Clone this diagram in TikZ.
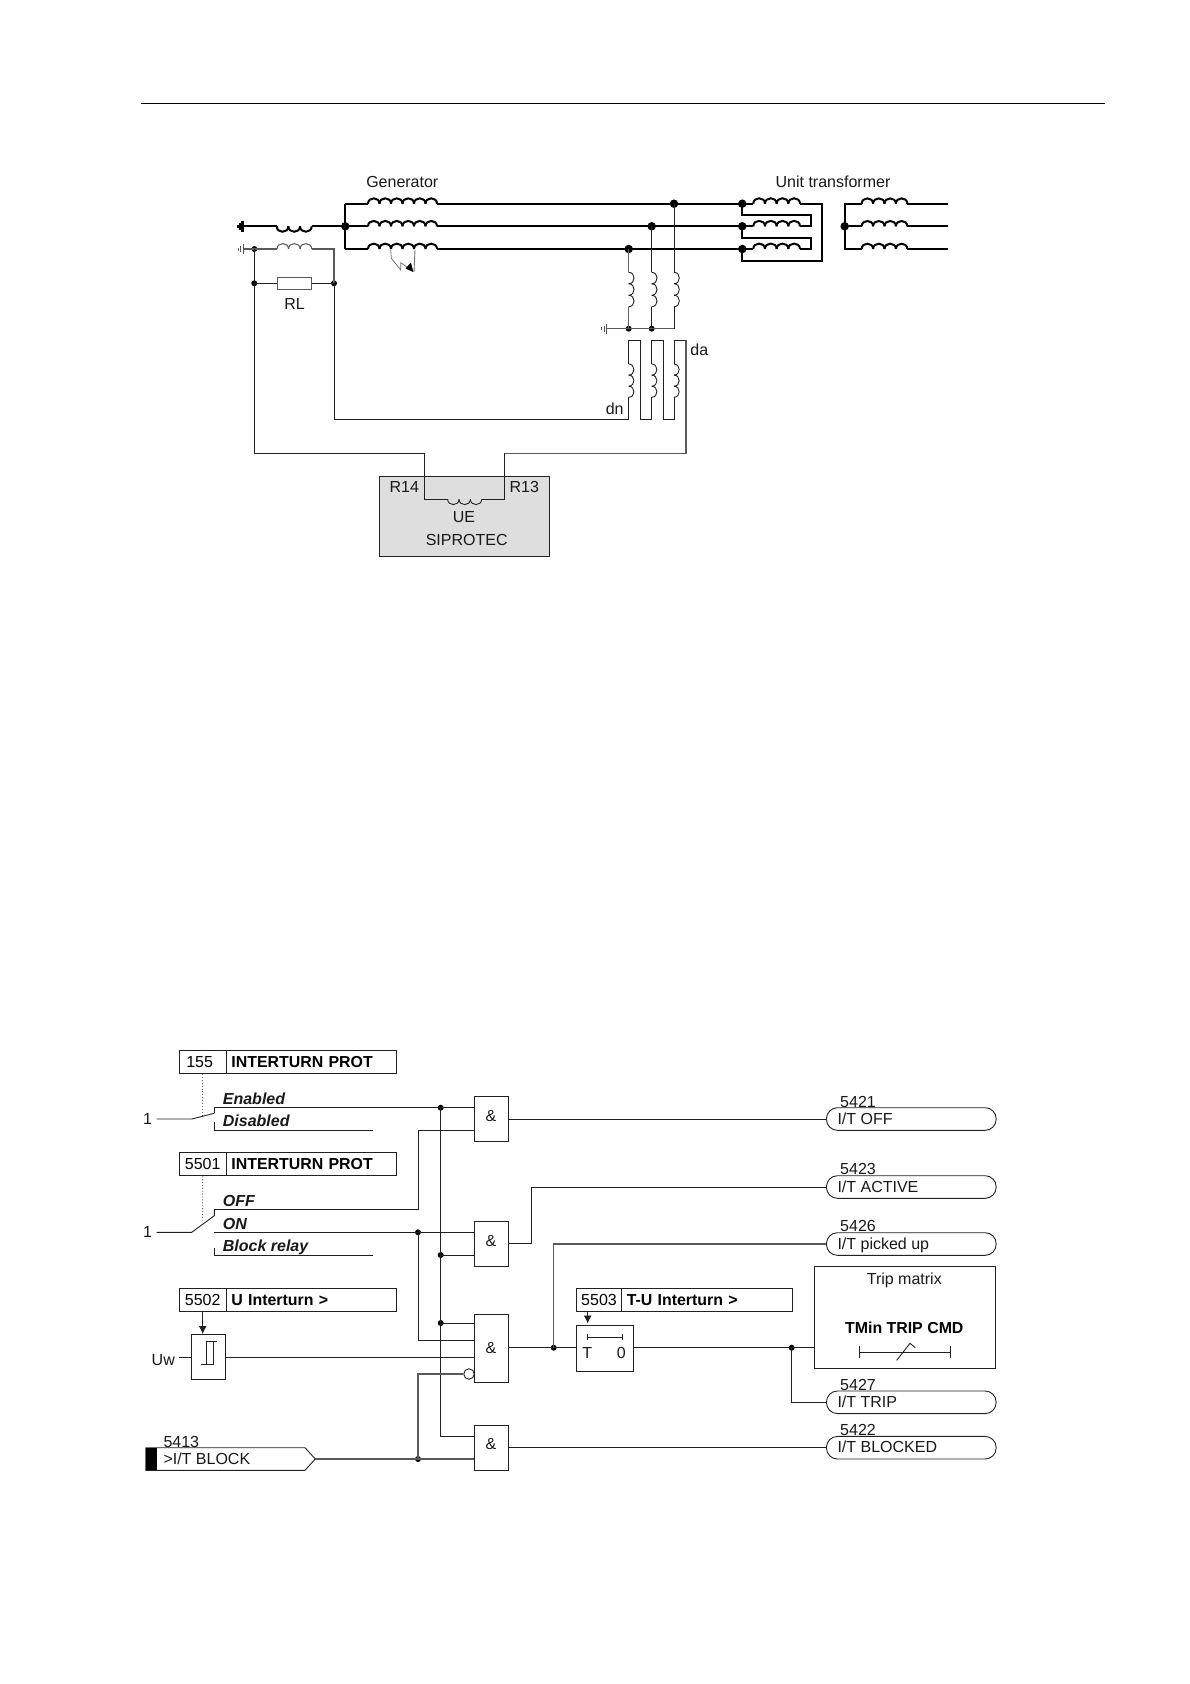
\documentclass[tikz,border=0pt]{standalone}
\usepackage{fontspec}
\setmainfont{Liberation Sans}
\usetikzlibrary{arrows.meta,calc}
\definecolor{ln}{gray}{0.13}
\definecolor{relaygray}{gray}{0.87}
\newcommand{\reg}{\fontsize{16}{18}\selectfont}
\newcommand{\bld}{\fontsize{15.9}{18}\selectfont\bfseries}
\newcommand{\bit}{\fontsize{16}{18}\selectfont\bfseries\itshape}
% horizontal coil: x0, step, n, y, sign (-1 up, 1 down), style
\newcommand{\coilH}[6]{\foreach \i in {1,...,#3}{%
  \pgfmathsetmacro\ca{#1+(\i-1)*#2}\pgfmathsetmacro\cb{\ca+#2}\pgfmathsetmacro\cy{#4+#5*0.62*#2}%
  \draw[#6] (\ca,#4) .. controls (\ca,\cy) and (\cb,\cy) .. (\cb,#4);}}
% vertical coil: y0, step, n, x
\newcommand{\coilV}[4]{\foreach \i in {1,...,#3}{%
  \pgfmathsetmacro\ca{#1+(\i-1)*#2}\pgfmathsetmacro\cb{\ca+#2}\pgfmathsetmacro\cx{#4+0.62*#2}%
  \draw[thinw] (#4,\ca) .. controls (\cx,\ca) and (\cx,\cb) .. (#4,\cb);}}
\newcommand{\groundsym}[3]{% x, y, style
  \draw[#3] (#1,#2-5) -- (#1,#2+5);
  \draw[#3] (#1-2.5,#2-3) -- (#1-2.5,#2+3);
  \draw[#3] (#1-5,#2-1.5) -- (#1-5,#2+1.5);}
\tikzset{
  x=1pt,y=-1pt,
  thinw/.style={draw=ln,line width=0.9pt},
  thickw/.style={draw=black,line width=2pt,line join=miter},
  graywire/.style={draw=black!65,line width=1.05pt},
  gndw/.style={draw=black!65,line width=0.8pt},
  dotb/.style={circle,fill=black,inner sep=0,minimum size=8.5pt},
  dots/.style={circle,fill=black,inner sep=0,minimum size=6pt},
  lbl/.style={inner sep=0,font=\reg,text=black!90},
  gate/.style={draw=ln,line width=0.9pt,inner sep=0,minimum width=34pt,font=\reg},
  numcell/.style={draw=ln,line width=0.9pt,inner sep=0,minimum height=23pt,font=\reg},
  namecell/.style={draw=ln,line width=0.9pt,inner xsep=5pt,inner ysep=0,minimum height=23pt,font=\bld,align=left,text height=11pt,text depth=1pt},
  pill/.style={draw=ln,line width=0.9pt,rounded corners=11pt,inner sep=0,minimum width=169.7pt,minimum height=22.6pt},
  swlabel/.style={inner sep=0,anchor=west,font=\bit,text=black!90},
  arr/.style={-{Latex[length=8pt,width=8pt]},thinw},
}
\begin{document}
\begin{tikzpicture}
\useasboundingbox (0,0) rectangle (1190,1684);
\fill[white] (0,0) rectangle (1190,1684);
% page rule
\coordinate (ruleL) at (141,103.3);
\coordinate (ruleR) at (1105,103.3);
\draw[draw=black,line width=1pt] (ruleL) -- (ruleR);

%%%%%%%%%%%%% TOP CIRCUIT
\node[lbl] (tgen) at (402.3,182.3) {Generator};
\node[lbl] (tunit) at (833,181.5) {Unit transformer};
% junctions
\node[dotb] (nst) at (345.3,226.3) {};
\node[dotb] (pa) at (674,203.7) {};
\node[dotb] (pb) at (651.7,226.3) {};
\node[dotb] (pc) at (628.7,249) {};
\node[dotb] (ta) at (742.3,203.7) {};
\node[dotb] (tb) at (742.3,226.3) {};
\node[dotb] (tc) at (742.3,249) {};
\node[dotb] (sn) at (844.7,226.3) {};
\coordinate (gntop) at (345.3,203.7);
\coordinate (gnbot) at (345.3,249);
% generator thick
\draw[thickw] (gntop) -- (gnbot);
\draw[thickw] (gntop) -- (368,203.7);
\draw[thickw] (nst.center) -- (368,226.3);
\draw[thickw] (gnbot) -- (368,249);
\coilH{368}{11.5}{6}{203.7}{-1}{thickw}
\coilH{368}{11.5}{6}{226.3}{-1}{thickw}
\coilH{368}{11.5}{6}{249}{-1}{thickw}
\draw[thickw] (437,203.7) -- (pa.center) -- (ta.center) -- (753.3,203.7);
\draw[thickw] (437,226.3) -- (pb.center) -- (tb.center) -- (753.3,226.3);
\draw[thickw] (437,249) -- (pc.center) -- (tc.center) -- (753.3,249);
% unit transformer primary
\coilH{753.3}{11.67}{4}{203.7}{-1}{thickw}
\coilH{753.3}{11.67}{4}{226.3}{-1}{thickw}
\coilH{753.3}{11.67}{4}{249}{-1}{thickw}
\draw[thickw] (800,203.7) -- (822.3,203.7) -- (822.3,260.7) -- (742.3,260.7) -- (tc.center);
\draw[thickw] (800,226.3) -- (811,226.3) -- (811,215) -- (742.3,215) -- (ta.center);
\draw[thickw] (800,249) -- (811,249) -- (811,237.7) -- (742.3,237.7) -- (tb.center);
% secondary
\draw[thickw] (861.7,203.7) -- (844.7,203.7) -- (844.7,249) -- (861.7,249);
\draw[thickw] (sn.center) -- (861.7,226.3);
\coilH{861.7}{11.4}{4}{203.7}{-1}{thickw}
\coilH{861.7}{11.4}{4}{226.3}{-1}{thickw}
\coilH{861.7}{11.4}{4}{249}{-1}{thickw}
\draw[thickw] (907.3,203.7) -- (947.7,203.7);
\draw[thickw] (907.3,226.3) -- (947.7,226.3);
\draw[thickw] (907.3,249) -- (947.7,249);
% neutral reactor (thick)
\draw[thickw] (242,226.3) -- (276.7,226.3);
\coilH{276.7}{11.67}{3}{226.3}{1}{thickw}
\draw[thickw] (311.7,226.3) -- (nst.center);
\draw[draw=black,line width=2.6pt] (242.5,220.8) -- (242.5,231.8);
\draw[draw=black,line width=2.4pt] (240,222.8) -- (240,229.8);
\draw[draw=black,line width=1.6pt] (238,224.8) -- (238,227.8);
% neutral transformer (thin)
\node[dots] (ngd) at (254.3,249) {};
\node[dots] (rll) at (254.3,283.3) {};
\node[dots] (rlr) at (334,283.3) {};
\groundsym{243}{249}{gndw}
\draw[graywire] (243,249) -- (ngd.center) -- (277,249);
\coilH{277}{11.57}{3}{249}{-1}{graywire}
\draw[graywire] (311.7,249) -- (334,249) -- (rlr.center);
\node[draw=black!65,line width=1.05pt,fill=white,minimum width=34.7pt,minimum height=12pt,inner sep=0] (rl) at (294.4,283.3) {};
\draw[thinw] (rll.center) -- (rl.west);
\draw[thinw] (rl.east) -- (rlr.center);
\node[lbl] (trl) at (294.5,304) {RL};
% fault
\draw[draw=black!55,line width=0.8pt] (390.7,250) -- (391.3,258.3) -- (400.7,270) -- (400.7,262.7) -- (408,267.7);
\draw[draw=black!55,line width=0.9pt] (415,250) -- (414,272);
\fill[black] (413.3,272) -- (405.5,268.5) -- (411,262.5) -- cycle;
% VT
\node[dots] (ve1) at (628.7,328.7) {};
\node[dots] (ve2) at (651.7,328.7) {};
\coordinate (ve3) at (674,328.7);
\draw[draw=black!60,line width=1.05pt] (pc.center) -- (628.7,272.3);
\draw[thinw] (pb.center) -- (651.7,272.3);
\draw[thinw] (pa.center) -- (674,272.3);
\coilV{272.3}{11.47}{3}{628.7}
\coilV{272.3}{11.47}{3}{651.7}
\coilV{272.3}{11.47}{3}{674}
\draw[draw=black!60,line width=1.05pt] (628.7,306.7) -- (ve1.center);
\draw[thinw] (651.7,306.7) -- (ve2.center);
\draw[thinw] (674,306.7) -- (ve3);
\groundsym{606.7}{328.7}{gndw}
\draw[graywire] (606.7,328.7) -- (ve1.center) -- (ve2.center) -- (ve3);
% open delta
\coilV{364}{11.1}{3}{628.7}
\coilV{364}{11.1}{3}{651.7}
\coilV{364}{11.1}{3}{674}
\coordinate (dnend) at (628.7,419.3);
\coordinate (daend) at (686,419.3);
\draw[thinw] (rlr.center) -- (334,419.3) -- (dnend) -- (628.7,397.3);
\draw[thinw] (628.7,364) -- (628.7,340) -- (640.3,340) -- (640.3,419.3) -- (651.7,419.3) -- (651.7,397.3);
\draw[thinw] (651.7,364) -- (651.7,340) -- (663,340) -- (663,419.3) -- (674,419.3) -- (674,397.3);
\draw[thinw] (674,364) -- (674,340) -- (686,340);
\draw[graywire] (686,340) -- (686,453.3) -- (504.3,453.3);
\node[lbl] (tda) at (699.3,350) {da};
\node[lbl] (tdn) at (614.7,408.3) {dn};
% relay
\node[draw=ln,line width=0.9pt,fill=relaygray,minimum width=170pt,minimum height=79.3pt,inner sep=0] (relay) at (464.3,516.3) {};
\coordinate (ue1) at (447.7,499.3);
\coordinate (ue2) at (481.7,499.3);
\draw[thinw] (ngd.center) -- (rll.center) -- (254.3,453.7) -- (424.3,453.7) -- (424.3,499.3) -- (ue1);
\coilH{447.7}{11.33}{3}{499.3}{1}{thinw}
\draw[thinw] (ue2) -- (504.3,499.3) -- (504.3,453.3);
\node[lbl] (tr14) at (404.3,487.3) {R14};
\node[lbl] (tr13) at (524.3,487.3) {R13};
\node[lbl] (tue) at (464,517.3) {UE};
\node[lbl] (tsip) at (466.7,540) {SIPROTEC};

%%%%%%%%%%%%% LOGIC
% parameter boxes
\node[numcell,minimum width=46.7pt,text width=32.7pt,align=left,inner xsep=7pt] (n155) at (202.65,1062.3) {155};
\node[namecell,text width=159.7pt,anchor=west] (p155) at (226,1062.3) {INTERTURN PROT};
\node[numcell,minimum width=46.7pt] (n5501) at (202.65,1164.3) {5501};
\node[namecell,text width=159.7pt,anchor=west] (p5501) at (226,1164.3) {INTERTURN PROT};
\node[numcell,minimum width=46.7pt] (n5502) at (202.65,1300.3) {5502};
\node[namecell,text width=159.7pt,anchor=west] (p5502) at (226,1300.3) {U Interturn >};
\node[numcell,minimum width=44.6pt] (n5503) at (599,1300.3) {5503};
\node[namecell,text width=160.4pt,anchor=west] (p5503) at (621.3,1300.3) {T-U Interturn >};
% gates
\node[gate,minimum height=44.6pt] (g1) at (491.3,1119) {};
\node[gate,minimum height=44.7pt] (g2) at (491.3,1243.7) {};
\node[gate,minimum height=68.4pt] (g3) at (491.3,1348.5) {};
\node[gate,minimum height=45.3pt] (g4) at (491.3,1447.7) {};
\node[lbl] (ta1) at (491,1116) {\&};
\node[lbl] (ta2) at (491,1240.7) {\&};
\node[lbl] (ta3) at (491,1348.3) {\&};
\node[lbl] (ta4) at (491,1444.3) {\&};
% switch 1
\node[lbl] (one1) at (147.5,1119) {1};
\coordinate (sa1) at (191.7,1119);
\coordinate (st1) at (214.3,1113.3);
\draw[draw=black!60,line width=0.9pt,dotted] (202.7,1074) -- (202.7,1115);
\draw[thinw] (156.7,1119) -- (sa1) -- (st1);
\node[dots] (j1) at (440.7,1107.7) {};
\draw[thinw] (st1) -- (214.3,1107.7) -- (j1.center) -- (j1 -| g1.west);
\draw[thinw] (214.3,1122.3) -- (214.3,1130) -- (373,1130);
\node[swlabel] (lenab) at (222.7,1098.5) {Enabled};
\node[swlabel] (ldis) at (222.7,1121) {Disabled};
% switch 2
\node[lbl] (one2) at (147.5,1232.3) {1};
\coordinate (sa2) at (191.7,1232.3);
\coordinate (st2) at (214.3,1215.7);
\draw[draw=black!60,line width=0.9pt,dotted] (n5501.south) -- (202.7,1221.7);
\draw[thinw] (156.7,1232.3) -- (sa2) -- (st2) -- (214.3,1209.7);
\node[dots] (j2) at (418,1232.3) {};
\draw[thinw] (214.3,1209.7) -- (418,1209.7) -- (418,1130) -- (474.3,1130);
\draw[thinw] (214.3,1232.3) -- (j2.center) -- (j2 -| g2.west);
\draw[thinw] (214.3,1248) -- (214.3,1255) -- (373,1255);
\node[swlabel] (loff) at (222.7,1201) {OFF};
\node[swlabel] (lon) at (222.7,1224) {ON};
\node[swlabel] (lblk) at (222.7,1247.5) {Block relay};
% bus verticals
\node[dots] (j3) at (440.7,1255) {};
\node[dots] (j4) at (440.7,1323) {};
\draw[thinw] (j1.center) -- (j3.center) -- (j4.center) -- (440.7,1436.3) -- (474.3,1436.3);
\draw[thinw] (j3.center) -- (j3 -| g2.west);
\draw[thinw] (j4.center) -- (j4 -| g3.west);
\draw[thinw] (j2.center) -- (418,1340) -- (474.3,1340);
% threshold
\node[draw=ln,line width=0.9pt,inner sep=0,minimum width=34.7pt,minimum height=45.4pt] (thr) at (208.35,1357) {};
\draw[thinw] (201,1364) -- (213.3,1364) -- (213.3,1341.7);
\draw[thinw] (206.3,1364) -- (206.3,1341.7) -- (216.7,1341.7);
\draw[arr] (202.7,1311.7) -- (202.7,1334);
\node[lbl] (tuw) at (163.3,1360.3) {Uw};
\coordinate (uwe) at (179.3,1357.3);
\draw[thinw] (uwe) -- (uwe -| thr.west);
\draw[thinw] (thr.east |- uwe) -- (uwe -| g3.west);
% input block
\coordinate (btip) at (315.3,1459);
\draw[thinw] (145.7,1447.7) -- (305,1447.7) -- (btip) -- (305,1470.3) -- (145.7,1470.3) -- cycle;
\fill[black] (145.7,1447.7) rectangle (157.3,1470.3);
\node[lbl,anchor=west] (tblk) at (163.3,1458.3) {>I/T BLOCK};
\node[lbl,anchor=west] (t5413) at (163.3,1441.7) {5413};
\node[dots] (j5) at (418,1459) {};
\draw[graywire] (btip) -- (j5.center) -- (j5 -| g4.west);
% inverted input
\node[circle,draw=ln,line width=0.9pt,fill=white,inner sep=0,minimum size=10.5pt] (inv) at (469,1374) {};
\draw[graywire] (j5.center) -- (418,1374) -- (inv.west);
% outputs
\node[pill,anchor=west] (o1) at (826,1119) {};
\node[pill,anchor=west] (o2) at (826,1187) {};
\node[pill,anchor=west] (o3) at (826,1244) {};
\node[pill,anchor=west] (o4) at (826,1402.3) {};
\node[pill,anchor=west] (o5) at (826,1447.7) {};
\node[lbl,anchor=west] (to1) at (837.3,1118.5) {I/T OFF};
\node[lbl,anchor=west] (to2) at (837.3,1186.5) {I/T ACTIVE};
\node[lbl,anchor=west] (to3) at (837.3,1245) {I/T picked up};
\node[lbl,anchor=west] (to4) at (837.3,1401.8) {I/T TRIP};
\node[lbl,anchor=west] (to5) at (837.3,1447) {I/T BLOCKED};
\node[lbl,anchor=west] (no1) at (840,1101.7) {5421};
\node[lbl,anchor=west] (no2) at (840,1169.3) {5423};
\node[lbl,anchor=west] (no3) at (840,1226) {5426};
\node[lbl,anchor=west] (no4) at (840,1384.7) {5427};
\node[lbl,anchor=west] (no5) at (840,1430) {5422};
\draw[thinw] (g1.east) -- (o1.west);
\coordinate (g2o) at (531.3,1243.7);
\draw[thinw] (g2.east) -- (g2o) -- (531.3,1187) -- (o2.west);
\draw[thinw] (g4.east) -- (o5.west);
% timer
\node[draw=ln,line width=0.9pt,inner sep=0,minimum width=56.6pt,minimum height=45.3pt] (tm) at (605,1348.3) {};
\draw[thinw] (587.7,1337.3) -- (622.3,1337.3);
\draw[thinw] (587.7,1334.3) -- (587.7,1340.3);
\draw[thinw] (622.3,1334.3) -- (622.3,1340.3);
\node[lbl] (tmT) at (587.3,1353.3) {T};
\node[lbl] (tm0) at (621.3,1353.3) {0};
\draw[arr] (587.7,1311.8) -- (587.7,1323.5);
\node[dots] (j6) at (553.7,1347.7) {};
\draw[thinw] (g3.east |- j6) -- (j6.center) -- (j6 -| tm.west);
\draw[graywire] (j6.center) -- (553.7,1244) -- (o3.west);
% trip matrix
\node[draw=ln,line width=0.9pt,inner sep=0,minimum width=181.7pt,minimum height=101.6pt] (tr) at (904.85,1317.5) {};
\node[lbl] (ttr) at (904.3,1280.3) {Trip matrix};
\node[inner sep=0,font=\bld] (ttm) at (904.3,1328.3) {TMin TRIP CMD};
\draw[thinw] (859.3,1352.3) -- (950.3,1352.3);
\draw[thinw] (859.3,1346.3) -- (859.3,1358.3);
\draw[thinw] (950.3,1346.3) -- (950.3,1358.3);
\draw[thinw] (896.7,1360.3) -- (910,1343.3) -- (915.3,1347.7);
\node[dots] (j7) at (791.7,1347.7) {};
\draw[thinw] (tm.east |- j7) -- (j7.center) -- (j7 -| tr.west);
\draw[thinw] (j7.center) -- (791.7,1402.3) -- (o4.west);
\end{tikzpicture}
\end{document}
